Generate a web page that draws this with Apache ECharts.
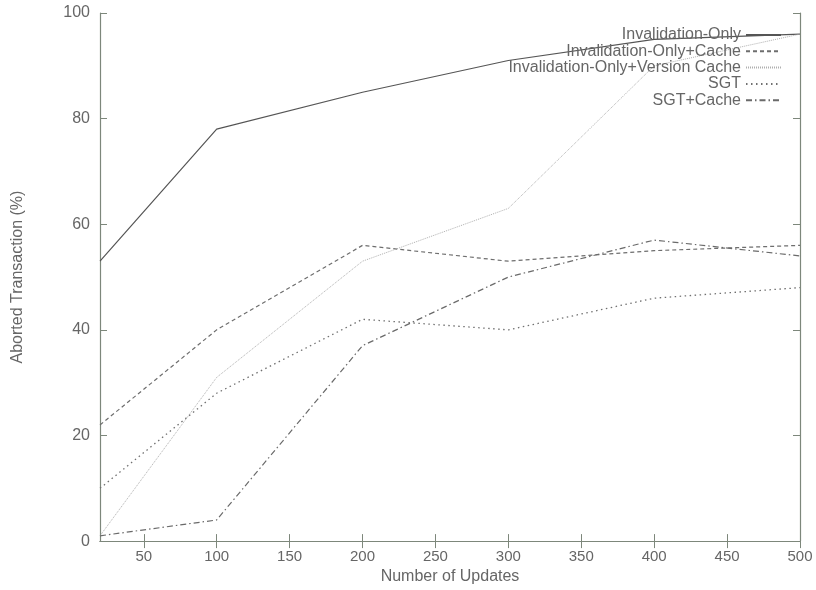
<!DOCTYPE html>
<html>
<head>
<meta charset="utf-8">
<script src="https://cdn.jsdelivr.net/npm/echarts@6/dist/echarts.min.js"></script>
<style>
  html, body { margin: 0; padding: 0; background: #fff; }
  #chart { width: 816px; height: 590px; }
</style>
</head>
<body>
<div id="chart"></div>
<script>
const updates = [20, 100, 200, 300, 400, 500];
const invOnly = [53, 78, 85, 91, 95, 96];
const invCache = [22, 40, 56, 53, 55, 56];
const invVersion = [1, 31, 53, 63, 90, 96];
const sgt = [10, 28, 42, 40, 46, 48];
const sgtCache = [1, 4, 37, 50, 57, 54];
const xTicks = [50, 100, 150, 200, 250, 300, 350, 400, 450, 500];

const font = 'Liberation Sans';
const axisColor = '#7d877b';
const textColor = '#666';

function pairs(ys) {
  return updates.map((x, i) => [x, ys[i]]);
}

function line(name, ys, color, type, width) {
  return {
    name: name,
    type: 'line',
    data: pairs(ys),
    symbol: 'none',
    lineStyle: { color: color, type: type, width: width },
    itemStyle: { color: color },
    emphasis: { disabled: true }
  };
}

const chart = echarts.init(document.getElementById('chart'));

const baseX = {
  type: 'value', min: 20, max: 500,
  axisLine: { lineStyle: { color: axisColor, width: 1.2 } },
  axisTick: { inside: true, length: 7, customValues: xTicks, lineStyle: { color: axisColor } },
  splitLine: { show: false }
};
const baseY = {
  type: 'value', min: 0, max: 100, interval: 20,
  axisLine: { show: true, lineStyle: { color: axisColor, width: 1.2 } },
  axisTick: { show: true, inside: true, length: 7, lineStyle: { color: axisColor } },
  splitLine: { show: false }
};

chart.setOption({
  backgroundColor: '#fff',
  animation: false,
  grid: { left: 100, right: 16, top: 13, bottom: 47 },
  xAxis: [
    Object.assign({}, baseX, {
      position: 'bottom',
      name: 'Number of Updates',
      nameLocation: 'middle',
      nameGap: 25,
      nameTextStyle: { fontFamily: font, fontSize: 16, color: textColor },
      axisLabel: { customValues: xTicks, margin: 8, fontFamily: font, fontSize: 15, color: textColor }
    }),
    Object.assign({}, baseX, {
      position: 'top',
      axisLabel: { show: false }
    })
  ],
  yAxis: [
    Object.assign({}, baseY, {
      position: 'left',
      name: 'Aborted Transaction (%)',
      nameLocation: 'middle',
      nameGap: 74,
      nameTextStyle: { fontFamily: font, fontSize: 16, color: textColor },
      axisLabel: { margin: 10, fontFamily: font, fontSize: 16, color: textColor }
    }),
    Object.assign({}, baseY, {
      position: 'right',
      axisLabel: { show: false }
    })
  ],
  legend: {
    orient: 'vertical',
    right: 29,
    top: 22,
    align: 'right',
    itemWidth: 35,
    itemHeight: 10,
    itemGap: 0.3,
    selectedMode: false,
    itemStyle: { opacity: 0 },
    textStyle: { fontFamily: font, fontSize: 16, lineHeight: 16, color: textColor },
    data: ['Invalidation-Only', 'Invalidation-Only+Cache', 'Invalidation-Only+Version Cache', 'SGT', 'SGT+Cache']
  },
  series: [
    line('Invalidation-Only', invOnly, '#555', 'solid', 1.2),
    line('Invalidation-Only+Cache', invCache, '#6e6e6e', [4, 3], 1.2),
    line('Invalidation-Only+Version Cache', invVersion, '#b0b0b0', [1, 1], 1),
    line('SGT', sgt, '#707070', [1.5, 3.5], 1.3),
    line('SGT+Cache', sgtCache, '#6a6a6a', [6, 3, 1.5, 3], 1.2)
  ]
});
</script>
</body>
</html>
